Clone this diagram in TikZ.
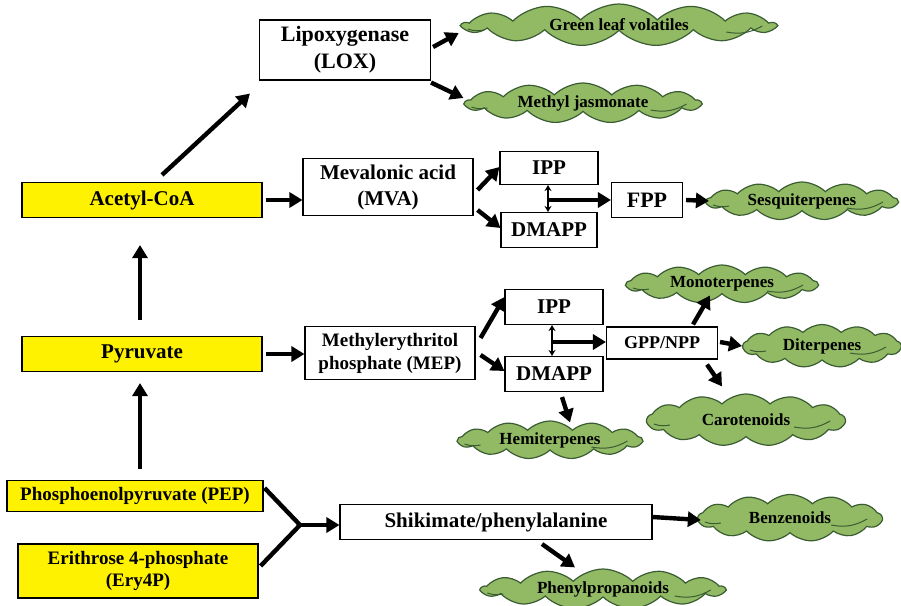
\documentclass[tikz,border=0pt]{standalone}
\usepackage{fontspec}
\setmainfont{Liberation Serif}
\usetikzlibrary{arrows.meta,shapes.symbols}
\definecolor{leaf}{RGB}{146,186,100}
\definecolor{leafline}{RGB}{58,92,50}
\newcommand{\fsz}[2]{\fontsize{#1}{#2}\selectfont}
\tikzset{
  box/.style={draw, line width=1.1pt, fill=white, align=center, inner sep=0pt, font=\bfseries},
  ybox/.style={box, fill=yellow},
  puff/.style={cloud, cloud puffs=13, cloud puff arc=90, cloud ignores aspect,
    draw=leafline, fill=leaf, line width=1.2pt, inner sep=0pt,
    font=\bfseries\fsz{17}{19}},
  curl/.style={draw=leafline, line width=1pt},
  arr/.style={line width=4.4pt, -{Triangle[length=13pt,width=15pt]}},
  dbl/.style={line width=2pt, {Stealth[length=6pt,width=7pt]}-{Stealth[length=6pt,width=7pt]}}
}
\begin{document}
\begin{tikzpicture}[x=1pt, y=-1pt]
\useasboundingbox (0,0) rectangle (901,605);

% precursors
\node[ybox, minimum width=240, minimum height=35, font=\bfseries\fsz{21}{24}] (acetyl) at (142,200) {Acetyl-CoA};
\node[ybox, minimum width=240, minimum height=35, font=\bfseries\fsz{21}{24}] (pyruvate) at (142,354) {Pyruvate};
\node[ybox, minimum width=256, minimum height=31, font=\bfseries\fsz{19}{22}] (pep) at (135,496) {Phosphoenolpyruvate (PEP)};
\node[ybox, minimum width=240, minimum height=54, font=\bfseries\fsz{19}{22}] (ery) at (138,571) {Erithrose 4-phosphate\\(Ery4P)};

% pathways
\node[box, minimum width=171, minimum height=60, font=\bfseries\fsz{22}{27}] (lox) at (345,50) {Lipoxygenase\\(LOX)};
\node[box, minimum width=170, minimum height=57, font=\bfseries\fsz{21}{26}] (mva) at (388,187) {Mevalonic acid\\(MVA)};
\node[box, minimum width=98, minimum height=33, font=\bfseries\fsz{21}{24}] (ippa) at (549,168) {IPP};
\node[box, minimum width=96, minimum height=35, font=\bfseries\fsz{21}{24}] (dmappa) at (549,230) {DMAPP};
\node[box, minimum width=71, minimum height=35, font=\bfseries\fsz{22}{24}] (fpp) at (647,200) {FPP};
\node[box, minimum width=170, minimum height=53, font=\bfseries\fsz{19}{23}] (mep) at (390,353) {Methylerythritol\\phosphate (MEP)};
\node[box, minimum width=98, minimum height=35, font=\bfseries\fsz{21}{24}] (ippb) at (554,307) {IPP};
\node[box, minimum width=98, minimum height=35, font=\bfseries\fsz{21}{24}] (dmappb) at (554,374) {DMAPP};
\node[box, minimum width=111, minimum height=32, font=\bfseries\fsz{18}{21}] (gpp) at (662,343) {GPP/NPP};
\node[box, minimum width=312, minimum height=35, font=\bfseries\fsz{21}{24}] (shik) at (496,522) {Shikimate/phenylalanine};

% volatiles
\node[puff, minimum width=312, minimum height=42] (glv) at (619,25) {Green leaf volatiles};
\node[puff, minimum width=235, minimum height=40] (mj) at (583,103) {Methyl jasmonate};
\node[puff, minimum width=191, minimum height=38] (sesq) at (802,201) {Sesquiterpenes};
\node[puff, minimum width=191, minimum height=38] (mono) at (722,284) {Monoterpenes};
\node[puff, minimum width=158, minimum height=43] (dit) at (822,346) {Diterpenes};
\node[puff, minimum width=198, minimum height=52] (caro) at (746,420) {Carotenoids};
\node[puff, minimum width=184, minimum height=38] (hemi) at (550,440) {Hemiterpenes};
\node[puff, minimum width=184, minimum height=47] (benz) at (790,518) {Benzenoids};
\node[puff, minimum width=243, minimum height=40] (phen) at (603,589) {Phenylpropanoids};

% little strokes inside the clouds
\foreach \c in {glv,mj,sesq,mono,dit,caro,hemi,benz,phen}{
  \draw[curl] ([shift={(8,4)}]\c.west) to[bend right=15] ([shift={(24,5)}]\c.west);
  \draw[curl] ([shift={(-52,7)}]\c.east) to[bend right=20] ([shift={(-16,1)}]\c.east);
}

% main trunk
\draw[arr] ([shift={(20,-7)}]acetyl.north) -- ([shift={(-9,13)}]lox.south west);
\draw[arr] ([shift={(-2,-16)}]pyruvate.north) -- ([shift={(-2,27)}]acetyl.south);
\draw[arr] ([shift={(5,-11)}]pep.north) -- ([shift={(-2,11)}]pyruvate.south);
\draw[arr] ([xshift=3]acetyl.east) -- (acetyl.east -| mva.west);
\draw[arr] ([xshift=3]pyruvate.east) -- (pyruvate.east -| mep.west);

% LOX branch
\draw[arr] ([shift={(2,-3)}]lox.east) -- ([shift={(-1,8)}]glv.west);
\draw[arr] ([yshift=-2]lox.south east) -- ([shift={(0,-5)}]mj.west);

% MVA branch
\draw[arr] ([shift={(4,3)}]mva.east) -- ([yshift=1]ippa.west);
\draw[arr] ([shift={(4,23)}]mva.east) -- ([yshift=2]dmappa.west);
\draw[dbl] (ippa.south -| 548,0) -- (dmappa.north -| 548,0);
\coordinate (fork) at (548,200);
\draw[arr] (fork) -- (fpp.west);
\draw[arr] ([xshift=3]fpp.east) -- ([xshift=4]sesq.west);

% MEP branch
\draw[arr] ([shift={(5,-15)}]mep.east) -- ([yshift=10]ippb.west);
\draw[arr] ([shift={(5,2)}]mep.east) -- ([yshift=3]dmappb.west);
\draw[dbl] (ippb.south -| 552,0) -- (dmappb.north -| 552,0);
\coordinate (split) at (552,342);
\draw[arr] (split) -- (split -| gpp.west);
\draw[arr] ([shift={(31,-2)}]gpp.north) -- ([shift={(-12,1)}]mono.south);
\draw[arr] ([shift={(2,-1)}]gpp.east) -- (dit.west);
\draw[arr] ([shift={(45,5)}]gpp.south) -- ([shift={(-24,-7)}]caro.north);
\draw[arr] ([shift={(8,5)}]dmappb.south) -- ([shift={(20,2)}]hemi.north);

% shikimate branch
\coordinate (join) at (300,525);
\draw[line width=4.4pt] ([shift={(1,-8)}]pep.east) -- (join);
\draw[line width=4.4pt] ([shift={(2,-5)}]ery.east) -- (join);
\draw[arr] (join) -- (join -| shik.west);
\draw[arr] ([yshift=5]shik.east) -- ([shift={(4,2)}]benz.west);
\draw[arr] ([shift={(46,4)}]shik.south) -- ([shift={(-28,-1)}]phen.north);

\end{tikzpicture}
\end{document}
